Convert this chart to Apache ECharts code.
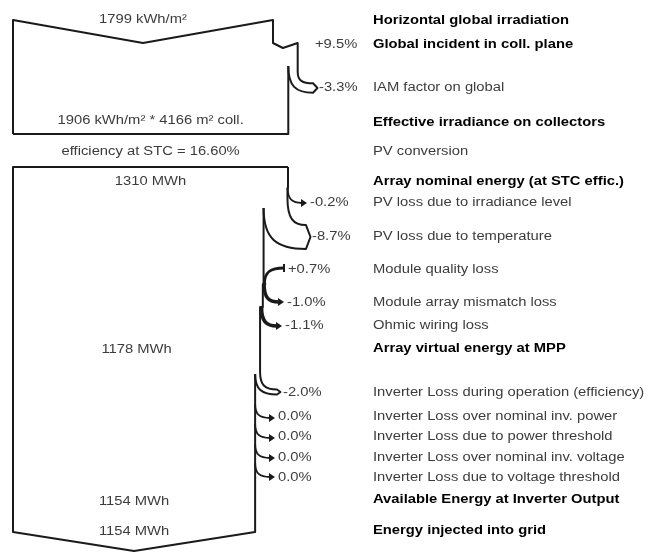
<!DOCTYPE html>
<html>
<head>
<meta charset="utf-8">
<title>Loss diagram</title>
<script src="https://cdn.jsdelivr.net/npm/echarts@6.0.0/dist/echarts.min.js"></script>
<style>
html,body{margin:0;padding:0;background:#ffffff;}
#chart{width:647px;height:552px;}
</style>
</head>
<body>
<div id="chart"></div>
<script>
// ===== Data =====
const horizontalIrradiation = 1799;   // kWh/m²
const effectiveIrradiation = 1906;    // kWh/m²
const collectorArea = 4166;           // m²
const stcEfficiency = 16.60;          // %
const arrayNominalEnergy = 1310;      // MWh
const arrayVirtualEnergy = 1178;      // MWh
const inverterOutputEnergy = 1154;    // MWh
const gridInjectedEnergy = 1154;      // MWh

const irradianceStepNames = ['Global incident in coll. plane', 'IAM factor on global'];
const irradianceStepPcts = [9.5, -3.3];

const arrayStepNames = ['PV loss due to irradiance level', 'PV loss due to temperature',
  'Module quality loss', 'Module array mismatch loss', 'Ohmic wiring loss'];
const arrayStepPcts = [-0.2, -8.7, 0.7, -1.0, -1.1];

const inverterStepNames = ['Inverter Loss during operation (efficiency)', 'Inverter Loss over nominal inv. power',
  'Inverter Loss due to power threshold', 'Inverter Loss over nominal inv. voltage',
  'Inverter Loss due to voltage threshold'];
const inverterStepPcts = [-2.0, 0.0, 0.0, 0.0, 0.0];

const totalNames = ['Horizontal global irradiation', 'Effective irradiance on collectors', 'PV conversion',
  'Array nominal energy (at STC effic.)', 'Array virtual energy at MPP',
  'Available Energy at Inverter Output', 'Energy injected into grid'];

// ===== Layout (pixels) =====
const L = {
  irrTopY: 20, irrVeeY: 43, irrBottomY: 134, gainNotchDepth: 5,
  enTopY: 167, enBottomY: 532, enVeeY: 551,
  nameX: 373,
  irrAxisMax: 4387, enAxisMax: 3020
};
const totalRows = [21, 123, 152, 182, 349, 500, 531];
const totalBold = [true, true, false, true, true, true, true];
const valueRows = [20, 121, 152, 182, 350, 502, 532];

const irrRows = [45, 88], irrArrowY = [45, 88], irrLabelX = [315, 319], irrStartY = [43, 72], irrInnerY = [43, 66];
const irrBold = [true, false];
const arrRows = [203, 237, 270, 303, 326], arrArrowY = [203, 237, 268, 302, 326];
const arrLabelX = [310, 312, 288, 287, 285], arrStartY = [188, 198, 284, 284, 307], arrInnerY = [188, 208, 284, 284, 307];
const invRows = [393, 417, 437, 458, 478], invArrowY = [392, 418, 438, 458, 477];
const invLabelX = [283, 278, 278, 278, 278], invStartY = [372, 404, 424, 444, 463], invInnerY = [374, 404, 424, 444, 463];

// ===== Rendering helpers =====
const SX = 1.23;
const FONT = '"Liberation Sans", Arial, Helvetica, sans-serif';
const INK = '#1a1a1a', TXT = '#3c3c3c', BOLD = '#000000';

function txt(x, y, s, o) {
  o = o || {};
  return { type: 'text', x: x, y: y, scaleX: SX, silent: true,
    style: { text: s, x: 0, y: 0, align: o.align || 'left', verticalAlign: 'middle',
      font: (o.bold ? 'bold ' : '') + '12px ' + FONT, fill: o.bold ? BOLD : TXT } };
}
function stroke(d, lw) {
  return { type: 'path', silent: true, shape: { pathData: d },
    style: { fill: 'none', stroke: INK, lineWidth: lw, lineJoin: 'round', lineCap: 'butt' } };
}
function pct(p) { return (p > 0 ? '+' : p < 0 ? '-' : '') + Math.abs(p).toFixed(1) + '%'; }
function n(v) { return v.toFixed(2); }

function buildSteps(names, pcts, rows, arrowY, labelX, startY, innerY, bold) {
  return names.map((name, i) => ({ name: name, pct: pcts[i], row: rows[i], arrow: arrowY[i],
    labelX: labelX[i], start: startY[i], inner: innerY[i], bold: bold ? bold[i] : false }));
}

function drawSteps(api, startVal, steps, edge, els) {
  const X = v => api.coord([v, 0])[0];
  const Y = y => api.coord([0, y])[1];
  let cur = startVal;
  steps.forEach(s => {
    const next = cur * (1 + s.pct / 100);
    const xo = X(cur), xi = X(next);
    const w = Math.abs(xo - xi);
    const ys = Y(s.start), yin = Y(s.inner), yr = Y(s.arrow);
    edge.push('L', n(xo), n(ys));
    if (s.pct < 0 && w >= 4) {
      const be = s.labelX - 6, tip = be + Math.min(4.5, w / 2 + 1);
      const oy = yr - w / 2, iy = yr + w / 2;
      els.push(stroke(['M', n(xo), n(ys), 'C', n(xo), n(ys + (oy - ys) * 0.75), n(xo + (be - xo) * 0.3), n(oy), n(be), n(oy),
        'L', n(tip), n(yr), 'L', n(be), n(iy),
        'C', n(xi + (be - xi) * 0.3), n(iy), n(xi), n(yin + (iy - yin) * 0.75), n(xi), n(yin)].join(' '), 2));
      edge.push('M', n(xi), n(yin));
    } else {
      const x0 = (xo + xi) / 2;
      const lw = Math.max(1.8, w + 1);
      const tip = s.labelX - 3;
      const end = s.pct > 0 ? tip - 1 : tip - 5;
      els.push(stroke(['M', n(x0), n(ys), 'C', n(x0), n(ys + (yr - ys) * 0.75), n(x0 + (end - x0) * 0.3), n(yr), n(end), n(yr)].join(' '), lw));
      if (s.pct > 0) {
        els.push(stroke(['M', n(end), n(yr - 4), 'L', n(end), n(yr + 4)].join(' '), 2));
      } else {
        els.push({ type: 'polygon', silent: true, shape: { points: [[end - 1, yr - 4], [tip, yr], [end - 1, yr + 4]] },
          style: { fill: INK } });
      }
      edge.push('L', n(xi), n(yin));
    }
    els.push(txt(s.labelX, Y(s.row), pct(s.pct)));
    els.push(txt(L.nameX, Y(s.row), s.name, { bold: s.bold }));
    cur = next;
  });
  return cur;
}

function renderIrradiance(params, api) {
  const X = v => api.coord([v, 0])[0];
  const Y = y => api.coord([0, y])[1];
  const els = [];
  const E0 = horizontalIrradiation;
  const E1 = E0 * (1 + irradianceStepPcts[0] / 100);
  const gy = Y(irrStartY[0]);
  const edge = ['M', n(X(0)), n(Y(L.irrBottomY)), 'L', n(X(0)), n(Y(L.irrTopY)),
    'L', n(X(E0 / 2)), n(Y(L.irrVeeY)), 'L', n(X(E0)), n(Y(L.irrTopY)),
    'L', n(X(E0)), n(gy), 'L', n(X(E0) + (X(E1) - X(E0)) * 0.4), n(gy + L.gainNotchDepth), 'L', n(X(E1)), n(gy)];
  els.push(txt(irrLabelX[0], Y(irrRows[0]), pct(irradianceStepPcts[0])));
  els.push(txt(L.nameX, Y(irrRows[0]), irradianceStepNames[0], { bold: irrBold[0] }));
  const steps = buildSteps(irradianceStepNames, irradianceStepPcts, irrRows, irrArrowY, irrLabelX, irrStartY, irrInnerY, irrBold).slice(1);
  const E2 = drawSteps(api, E1, steps, edge, els);
  edge.push('L', n(X(E2)), n(Y(L.irrBottomY)), 'L', n(X(0)), n(Y(L.irrBottomY)));
  els.unshift(stroke(edge.join(' '), 2));
  els.push(txt(X(E0 / 2), Y(valueRows[0]), horizontalIrradiation + ' kWh/m²', { align: 'center' }));
  els.push(txt(X(E2 / 2), Y(valueRows[1]), effectiveIrradiation + ' kWh/m² * ' + collectorArea + ' m² coll.', { align: 'center' }));
  els.push(txt(X(E2 / 2), Y(valueRows[2]), 'efficiency at STC = ' + stcEfficiency.toFixed(2) + '%', { align: 'center' }));
  for (let i = 0; i < 3; i++) els.push(txt(L.nameX, Y(totalRows[i]), totalNames[i], { bold: totalBold[i] }));
  return { type: 'group', children: els };
}

function renderEnergy(params, api) {
  const X = v => api.coord([v, 0])[0];
  const Y = y => api.coord([0, y])[1];
  const els = [];
  const F0 = arrayNominalEnergy;
  const edge = ['M', n(X(F0)), n(Y(L.enTopY))];
  const aSteps = buildSteps(arrayStepNames, arrayStepPcts, arrRows, arrArrowY, arrLabelX, arrStartY, arrInnerY);
  const F1 = drawSteps(api, F0, aSteps, edge, els);
  const iSteps = buildSteps(inverterStepNames, inverterStepPcts, invRows, invArrowY, invLabelX, invStartY, invInnerY);
  const F2 = drawSteps(api, F1, iSteps, edge, els);
  edge.push('L', n(X(F2)), n(Y(L.enBottomY)), 'L', n(X(F2 / 2)), n(Y(L.enVeeY)), 'L', n(X(0)), n(Y(L.enBottomY)),
    'L', n(X(0)), n(Y(L.enTopY)), 'L', n(X(F0)), n(Y(L.enTopY)));
  els.unshift(stroke(edge.join(' '), 2));
  els.push(txt(X(F0 / 2), Y(valueRows[3]), arrayNominalEnergy + ' MWh', { align: 'center' }));
  els.push(txt(X(F1 / 2), Y(valueRows[4]), arrayVirtualEnergy + ' MWh', { align: 'center' }));
  els.push(txt(X(F2 / 2), Y(valueRows[5]), inverterOutputEnergy + ' MWh', { align: 'center' }));
  els.push(txt(X(F2 / 2), Y(valueRows[6]), gridInjectedEnergy + ' MWh', { align: 'center' }));
  for (let i = 3; i < 7; i++) els.push(txt(L.nameX, Y(totalRows[i]), totalNames[i], { bold: totalBold[i] }));
  return { type: 'group', children: els };
}

const chart = echarts.init(document.getElementById('chart'), null, { renderer: 'canvas' });
chart.setOption({
  animation: false,
  backgroundColor: '#ffffff',
  grid: { left: 13, right: 0, top: 0, bottom: 0 },
  xAxis: [
    { type: 'value', min: 0, max: L.irrAxisMax, show: false },
    { type: 'value', min: 0, max: L.enAxisMax, show: false }
  ],
  yAxis: [{ type: 'value', min: 0, max: 552, inverse: true, show: false }],
  series: [
    { type: 'custom', xAxisIndex: 0, yAxisIndex: 0, data: [[0, 0]], renderItem: renderIrradiance, clip: false, silent: true },
    { type: 'custom', xAxisIndex: 1, yAxisIndex: 0, data: [[0, 0]], renderItem: renderEnergy, clip: false, silent: true }
  ]
});
</script>
</body>
</html>
